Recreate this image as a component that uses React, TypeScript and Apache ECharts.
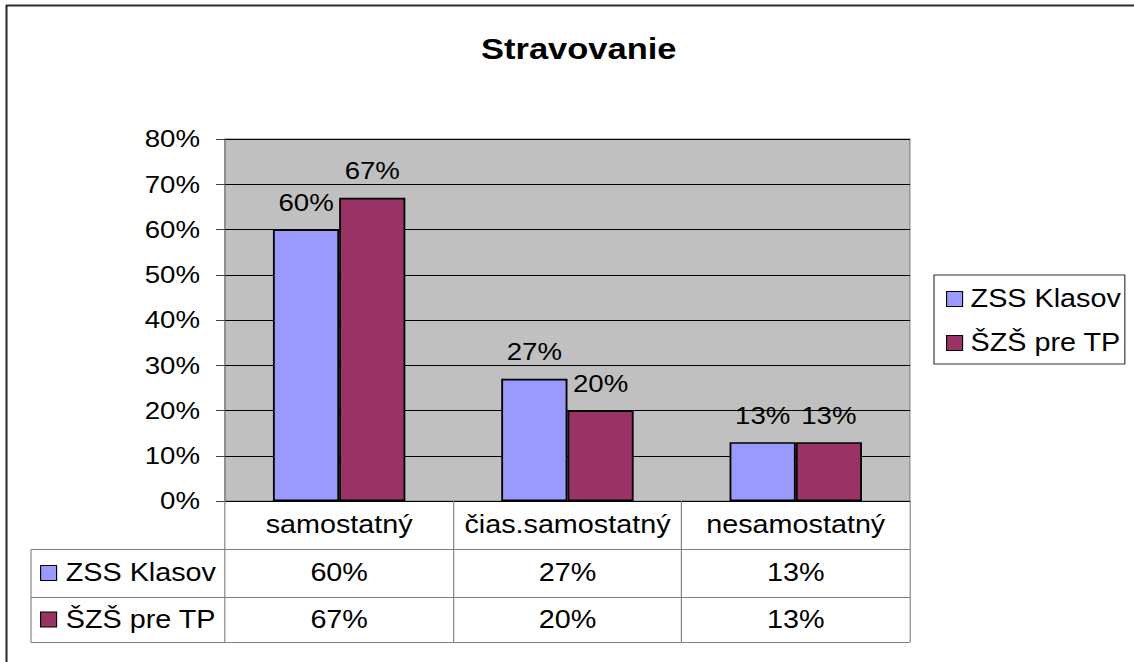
import React, { useEffect, useRef } from "react";
import * as echarts from "echarts";

// ---- data ----
const categories = ["samostatný", "čias.samostatný", "nesamostatný"];
const seriesNames = ["ZSS Klasov", "ŠZŠ pre TP"];
const zssValues = [0.6, 0.27, 0.13];
const szsValues = [0.67, 0.2, 0.13];
const yMin = 0;
const yMax = 0.8;
const yStep = 0.1;
const titleText = "Stravovanie";

// ---- layout (the reference is a slightly horizontally stretched picture) ----
const S = 1.15;
const W = 1134 / S;
const H = 662;
const X = (x: number) => x / S;
const FONT = "'Liberation Sans', Arial, sans-serif";

const pct = (v: number) => Math.round(v * 100) + "%";

const plotL = 225;
const plotR = 910;
const plotT = 139;
const plotB = 501;
const row1 = 549;
const row2 = 597;
const row3 = 642;
const tableL = 31;

const gridLine = "#808080";

function buildOption(): any {
  const catLabel = { fontSize: 25, color: "#000", fontFamily: FONT, interval: 0 };
  const tick = (len: number) => ({
    show: true,
    length: len,
    interval: 0,
    lineStyle: { color: gridLine, width: 1 },
  });
  const legendText = {
    fontSize: 25,
    color: "#000",
    fontFamily: FONT,
    lineHeight: 28,
    padding: [0, 0, 0, 2],
  };
  return {
    animation: false,
    backgroundColor: "#ffffff",
    color: ["#9999FF", "#993366"],
    title: {
      text: titleText,
      left: X(573),
      top: 29,
      textAlign: "center",
      textStyle: { fontFamily: FONT, fontSize: 30, fontWeight: "bold", color: "#000" },
    },
    grid: {
      left: X(plotL),
      right: W - X(plotR),
      top: plotT,
      bottom: H - plotB,
      show: true,
      backgroundColor: "#C0C0C0",
      borderColor: gridLine,
      borderWidth: 1,
      containLabel: false,
      outerBoundsMode: "none",
    },
    legend: [
      {
        data: seriesNames,
        orient: "vertical",
        left: X(934),
        top: 275,
        padding: [10, X(4), 7, X(12)],
        itemGap: 16,
        itemWidth: X(16),
        itemHeight: 15,
        icon: "rect",
        borderColor: "#333",
        borderWidth: 1,
        backgroundColor: "#fff",
        textStyle: legendText,
        itemStyle: { borderColor: "#000", borderWidth: 1 },
      },
      {
        data: seriesNames,
        orient: "vertical",
        left: X(40),
        top: 559,
        padding: 0,
        itemGap: 18.5,
        itemWidth: X(16),
        itemHeight: 15,
        icon: "rect",
        textStyle: { ...legendText, padding: [0, 0, 0, 3] },
        itemStyle: { borderColor: "#000", borderWidth: 1 },
      },
    ],
    xAxis: [
      {
        type: "category",
        data: categories,
        position: "bottom",
        axisLine: { show: true, lineStyle: { color: "#000", width: 1 } },
        axisTick: tick(row1 - plotB),
        axisLabel: { ...catLabel, margin: 11.5 },
        splitLine: { show: false },
      },
      {
        type: "category",
        data: zssValues.map(pct),
        position: "bottom",
        offset: row1 - plotB,
        axisLine: { show: false },
        axisTick: tick(row2 - row1),
        axisLabel: { ...catLabel, margin: 11.5 },
        splitLine: { show: false },
      },
      {
        type: "category",
        data: szsValues.map(pct),
        position: "bottom",
        offset: row2 - plotB,
        axisLine: { show: false },
        axisTick: tick(row3 - row2),
        axisLabel: { ...catLabel, margin: 10 },
        splitLine: { show: false },
      },
    ],
    yAxis: {
      type: "value",
      min: yMin,
      max: yMax,
      interval: yStep,
      axisLine: { show: true, lineStyle: { color: gridLine, width: 1 } },
      axisTick: { show: true, length: X(9), lineStyle: { color: "#404040" } },
      axisLabel: {
        margin: X(25),
        fontSize: 24,
        color: "#000",
        fontFamily: FONT,
        formatter: (v: number) => pct(v),
      },
      splitLine: { show: true, lineStyle: { color: "#000", width: 1 } },
    },
    series: [zssValues, szsValues].map((vals, i) => ({
      type: "bar",
      name: seriesNames[i],
      data: vals,
      xAxisIndex: 0,
      barGap: "0%",
      barCategoryGap: "42%",
      itemStyle: { borderColor: "#000", borderWidth: 1.6 },
      label: {
        show: true,
        position: "top",
        distance: 15,
        fontSize: 24,
        color: "#000",
        fontFamily: FONT,
        formatter: (p: any) => pct(p.value),
      },
    })),
    graphic: [
      {
        type: "line",
        silent: true,
        shape: { x1: X(6), y1: 5.5, x2: W + 10, y2: 5.5 },
        style: { stroke: "#2b2b2b", lineWidth: 2 },
      },
      {
        type: "line",
        silent: true,
        shape: { x1: X(6.5), y1: 5, x2: X(6.5), y2: H + 10 },
        style: { stroke: "#2b2b2b", lineWidth: 1.8 },
      },
      ...[row1, row2, row3].map((y) => ({
        type: "line",
        silent: true,
        shape: { x1: X(tableL), y1: y + 0.5, x2: X(plotR), y2: y + 0.5 },
        style: { stroke: gridLine, lineWidth: 1 },
      })),
      {
        type: "line",
        silent: true,
        shape: { x1: X(tableL), y1: row1 + 0.5, x2: X(tableL), y2: row3 + 0.5 },
        style: { stroke: gridLine, lineWidth: 1 },
      },
    ],
  };
}

export default function App() {
  const ref = useRef<HTMLDivElement>(null);
  useEffect(() => {
    if (!ref.current) return;
    const chart = echarts.init(ref.current, null, { renderer: "svg" });
    chart.setOption(buildOption());
    return () => chart.dispose();
  }, []);
  return (
    <div
      ref={ref}
      style={{
        position: "fixed",
        left: 0,
        top: 0,
        width: W,
        height: H,
        transform: `scaleX(${S})`,
        transformOrigin: "0 0",
        background: "#fff",
      }}
    />
  );
}
